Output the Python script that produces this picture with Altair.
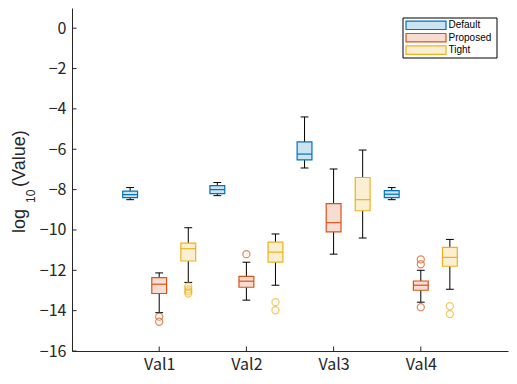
import altair as alt
import pandas as pd

categories = ["Val1", "Val2", "Val3", "Val4"]
series = ["Default", "Proposed", "Tight"]
stroke_colors = ["#0072BD", "#D95319", "#EDB120"]
fill_colors = ["#CCE3F2", "#F7DDD1", "#FBEFD2"]

# box statistics per series, per category: low whisker, q1, median, q3, high whisker
default_lo = [-8.50, -8.30, -6.93, -8.50]
default_q1 = [-8.40, -8.20, -6.53, -8.40]
default_med = [-8.25, -8.00, -6.24, -8.23]
default_q3 = [-8.08, -7.80, -5.64, -8.05]
default_hi = [-7.90, -7.65, -4.40, -7.90]

proposed_lo = [-14.10, -13.48, -11.20, -13.58]
proposed_q1 = [-13.15, -12.84, -10.10, -12.99]
proposed_med = [-12.69, -12.54, -9.64, -12.74]
proposed_q3 = [-12.36, -12.30, -8.70, -12.53]
proposed_hi = [-12.13, -11.60, -6.98, -12.00]

tight_lo = [-12.60, -12.74, -10.40, -12.94]
tight_q1 = [-11.54, -11.60, -9.05, -11.80]
tight_med = [-10.93, -11.10, -8.50, -11.36]
tight_q3 = [-10.65, -10.60, -7.40, -10.86]
tight_hi = [-9.89, -10.20, -6.04, -10.47]

# outliers: (series, category, value)
outlier_series = ["Proposed", "Proposed", "Tight", "Tight", "Tight", "Tight",
                  "Proposed", "Tight", "Tight",
                  "Proposed", "Proposed", "Proposed", "Tight", "Tight"]
outlier_cats = ["Val1", "Val1", "Val1", "Val1", "Val1", "Val1",
                "Val2", "Val2", "Val2",
                "Val4", "Val4", "Val4", "Val4", "Val4"]
outlier_vals = [-14.30, -14.55, -12.80, -12.95, -13.05, -13.15,
                -11.20, -13.58, -13.98,
                -11.46, -11.70, -13.83, -13.78, -14.17]

y_ticks = [-16, -14, -12, -10, -8, -6, -4, -2, 0]
title_parts = ["log", "10", "(Value)"]

stats = {
    "Default": (default_lo, default_q1, default_med, default_q3, default_hi),
    "Proposed": (proposed_lo, proposed_q1, proposed_med, proposed_q3, proposed_hi),
    "Tight": (tight_lo, tight_q1, tight_med, tight_q3, tight_hi),
}
rows = []
for s in series:
    lo, q1, med, q3, hi = stats[s]
    for i, c in enumerate(categories):
        rows.append(dict(series=s, cat=c, lo=lo[i], q1=q1[i], med=med[i], q3=q3[i], hi=hi[i]))
box_df = pd.DataFrame(rows)
out_df = pd.DataFrame(dict(series=outlier_series, cat=outlier_cats, val=outlier_vals))

cat_js = "[" + ",".join("'%s'" % c for c in categories) + "]"
ser_js = "[" + ",".join("'%s'" % s for s in series) + "]"
pos_expr = f"indexof({cat_js}, datum.cat) + 1 + (indexof({ser_js}, datum.series) - 1) / 3"

FONT = "Noto Sans CJK JP"
TFONT = "Liberation Sans"
xscale = alt.Scale(domain=[0, 5], nice=False, zero=False)
yscale = alt.Scale(domain=[-16, 1], nice=False, zero=False)
stroke_scale = alt.Scale(domain=series, range=stroke_colors)
fill_scale = alt.Scale(domain=series, range=fill_colors)

x_axis = alt.Axis(values=[1, 2, 3, 4], labelExpr=f"{cat_js}[datum.value - 1]", title=None,
                  grid=False, ticks=False, labelPadding=5, labelFontSize=16, labelFont=FONT,
                  labelColor="#262626", domainColor="#262626")
y_axis = alt.Axis(values=y_ticks, title=None, grid=False, ticks=False,
                  labelPadding=6, labelFontSize=16, labelFont=FONT, labelColor="#262626",
                  domainColor="#262626")

base = alt.Chart(box_df).transform_calculate(
    pos=pos_expr
).transform_calculate(
    left="datum.pos - 0.085", right="datum.pos + 0.085",
    capl="datum.pos - 0.045", capr="datum.pos + 0.045"
)

whisker = base.mark_rule(color="#000000", strokeWidth=1).encode(
    x=alt.X("pos:Q", scale=xscale, axis=x_axis),
    y=alt.Y("lo:Q", scale=yscale, axis=y_axis),
    y2="hi:Q",
)
cap_lo = base.mark_rule(color="#000000", strokeWidth=1).encode(
    x=alt.X("capl:Q", scale=xscale), x2="capr:Q", y=alt.Y("lo:Q", scale=yscale))
cap_hi = base.mark_rule(color="#000000", strokeWidth=1).encode(
    x=alt.X("capl:Q", scale=xscale), x2="capr:Q", y=alt.Y("hi:Q", scale=yscale))
box = base.mark_rect(strokeWidth=1.2).encode(
    x=alt.X("left:Q", scale=xscale), x2="right:Q",
    y=alt.Y("q1:Q", scale=yscale), y2="q3:Q",
    fill=alt.Fill("series:N", scale=fill_scale, legend=None),
    stroke=alt.Stroke("series:N", scale=stroke_scale, legend=None),
)
median = base.mark_rule(strokeWidth=1.2).encode(
    x=alt.X("left:Q", scale=xscale), x2="right:Q",
    y=alt.Y("med:Q", scale=yscale),
    stroke=alt.Stroke("series:N", scale=stroke_scale, legend=None),
)
outliers = alt.Chart(out_df).transform_calculate(pos=pos_expr).mark_point(
    shape="circle", filled=False, size=50, strokeWidth=1.2
).encode(
    x=alt.X("pos:Q", scale=xscale), y=alt.Y("val:Q", scale=yscale),
    stroke=alt.Stroke("series:N", scale=stroke_scale, legend=None),
)

# inward ticks
ytick_df = pd.DataFrame(dict(v=y_ticks))
yticks = alt.Chart(ytick_df).mark_rule(color="#262626").encode(
    y=alt.Y("v:Q", scale=yscale), x=alt.value(0), x2=alt.value(4.5))
xtick_df = pd.DataFrame(dict(v=[1, 2, 3, 4]))
xticks = alt.Chart(xtick_df).mark_rule(color="#262626").encode(
    x=alt.X("v:Q", scale=xscale), y=alt.value(343), y2=alt.value(338.5))

# y-axis title with subscript
title_layers = []
title_specs = [(title_parts[0], 18, -47, 225), (title_parts[1], 12, -37.5, 195), (title_parts[2], 18, -47, 179)]
for txt, fs, tx, ty in title_specs:
    title_layers.append(alt.Chart(pd.DataFrame(dict(t=[txt]))).mark_text(
        angle=270, align="left", baseline="alphabetic", font=TFONT, fontSize=fs, color="#262626"
    ).encode(text="t:N", x=alt.value(tx), y=alt.value(ty)))

# legend
legend_layers = [
    alt.Chart(pd.DataFrame(dict(a=[0]))).mark_rect(fill="white", stroke="#000000", strokeWidth=1).encode(
        x=alt.value(331), x2=alt.value(425), y=alt.value(10), y2=alt.value(50))
]
for i, s in enumerate(series):
    cy = 17.3 + i * 12.4
    one = pd.DataFrame(dict(series=[s]))
    legend_layers.append(alt.Chart(one).mark_rect(fill=fill_colors[i], stroke=stroke_colors[i], strokeWidth=1.2).encode(
        x=alt.value(334), x2=alt.value(374), y=alt.value(cy - 4.2), y2=alt.value(cy + 4.2)))
    legend_layers.append(alt.Chart(one).mark_text(align="left", baseline="middle", font="Liberation Sans",
                                                  fontSize=10, color="#000000").encode(
        text="series:N", x=alt.value(376.5), y=alt.value(cy)))

chart = alt.layer(whisker, cap_lo, cap_hi, box, median, outliers, yticks, xticks,
                  *title_layers, *legend_layers).properties(
    width=436, height=343,
    autosize=alt.AutoSizeParams(type="none"),
    padding={"left": 64, "top": 0, "right": 1, "bottom": 24},
).configure_view(stroke=None).configure_axis(domainWidth=1)

chart.save("out.html", embed_options={"renderer": "svg", "actions": False})
